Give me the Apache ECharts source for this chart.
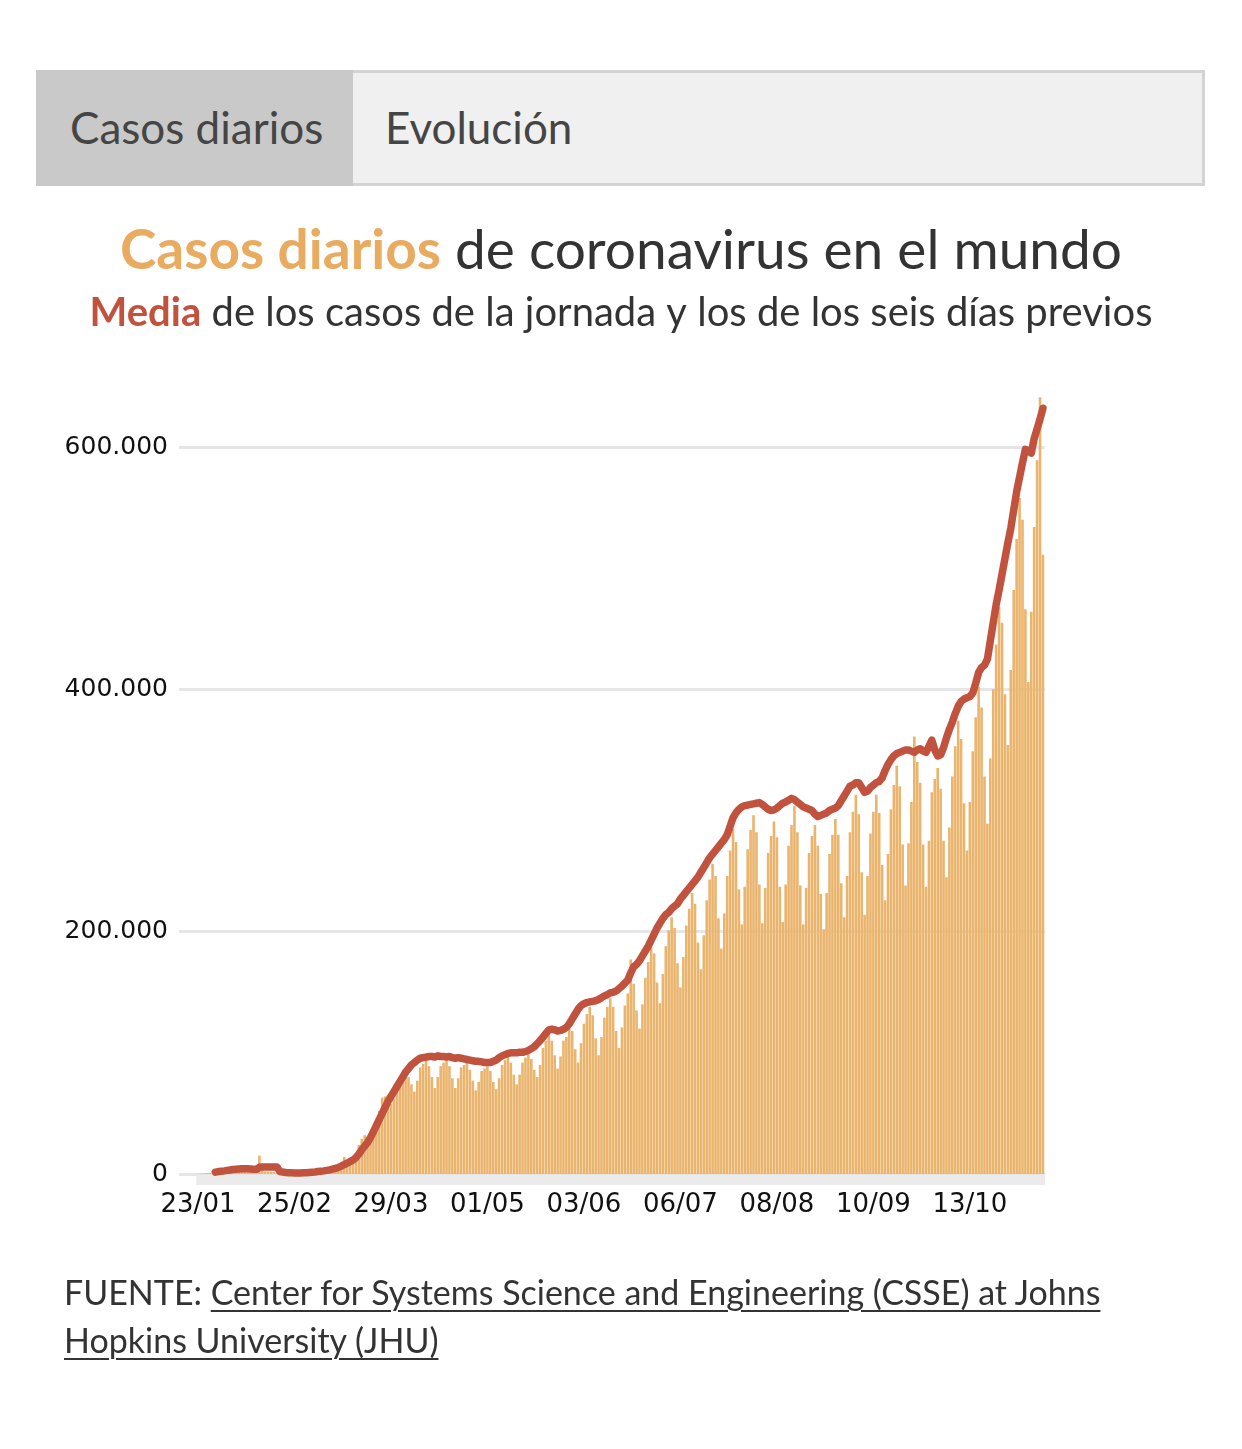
<!DOCTYPE html>
<html><head><meta charset="utf-8">
<script src="https://cdn.jsdelivr.net/npm/echarts@6/dist/echarts.min.js"></script>
<style>
html,body{margin:0;padding:0;background:#fff}
body{width:1242px;height:1449px;position:relative;overflow:hidden;font-family:Lato,"Noto Sans",sans-serif}
#chart{position:absolute;left:0;top:0;width:1242px;height:1449px}
.tabs{position:absolute;left:36px;top:70px;width:1169px;height:116px;background:#f0f0f0;border:3px solid #d3d3d3;box-sizing:border-box;z-index:2}
.tab{position:absolute;top:-3px;height:116px;line-height:114px;font-size:44px;color:#454545}
.tab.on{left:-3px;width:317px;background:#c9c9c9;padding-left:34px;box-sizing:border-box}
.tab.off{left:346px}
.fuente{position:absolute;left:64px;top:1268px;font-size:34px;line-height:48px;color:#333;z-index:2}
.fuente span{text-decoration:underline;text-underline-offset:5px;text-decoration-thickness:2px}
</style></head>
<body>
<div class="tabs"><div class="tab on">Casos diarios</div><div class="tab off">Evolución</div></div>
<div id="chart"></div>
<div class="fuente">FUENTE: <span>Center for Systems Science and Engineering (CSSE) at Johns<br>Hopkins University (JHU)</span></div>
<script>
// Daily cases (thousands), one per day starting 23/01
const casos = [
0.1,0.3,0.5,0.7,0.8,2.7,0.6,
2.1,1.7,2.1,4.7,3.1,4.0,3.7,
3.2,3.6,2.7,3.0,2.5,2.0,0.4,
15.2,6.5,2.1,2.1,1.9,1.9,0.5,
0.6,1.0,1.5,0.3,0.5,0.9,0.9,
1.1,1.4,1.8,1.7,2.0,1.9,2.3,
2.8,2.9,4.0,3.9,4.0,4.5,7.0,
7.5,14.0,11.0,11.5,14.5,16.0,24.0,
29,32,31,34,40,44,52,
63,64,65,58,62,75,78,
76,81,80,74,68,77,88,
91,94,89,80,71,80,89,
92,94,89,79,71,79,88,
90,92,86,77,69,76,85,
87,89,85,76,70,79,90,
94,97,92,82,74,82,92,
96,99,95,86,80,90,104,
110,115,110,98,87,97,110,
113,120,118,103,92,108,124,
132,138,131,112,98,113,129,
138,145,138,118,104,121,139,
149,177,157,135,120,140,162,
175,187,182,158,141,165,188,
201,212,203,174,154,179,205,
219,232,223,191,169,197,226,
243,256,246,211,186,215,246,
267,285,274,235,206,237,268,
284,296,282,239,207,236,265,
279,291,278,237,208,239,271,
288,304,282,238,206,236,265,
279,288,271,231,202,232,264,
280,293,280,240,212,246,282,
299,313,297,249,214,246,281,
299,313,298,255,226,264,301,
321,337,320,272,238,273,307,
361,340,323,272,237,275,315,
326,335,318,275,245,286,328,
353,374,359,306,267,307,349,
377,402,385,328,289,343,400,
437,468,455,396,354,416,482,
524,558,540,466,406,464,534,
589,641,511
];
// Seven-day average (thousands)
const media = [
null,null,null,null,null,null,1.5,
2.0,2.3,2.6,3.0,3.3,3.8,4.0,
4.2,4.4,4.3,4.3,4.2,4.0,3.8,
5.5,5.8,5.8,5.8,5.7,5.8,5.8,
2.0,1.6,1.3,1.1,1.0,0.9,0.8,
0.9,1.0,1.1,1.3,1.5,1.7,2.0,
2.3,2.6,3.0,3.4,4.0,4.6,5.4,
6.5,7.8,9.0,10.2,11.5,13.5,16.5,
20,23,26,30,35,40,45,
50,55,60,64,68,72,76,
80,84,87,90,92,94,95.5,
96,96.5,97,97,96.5,97.5,97,
97,96.5,97,96,95.5,96,95.5,
95,94.5,94,93.5,93,93,92.5,
92,92,92,93,94,96,97.5,
98.5,99.5,100,100,100,100.5,100.5,
101,102,103.5,105,107.5,110,113,
116,119,119.5,119,118,118.5,119.5,
121,124,128,132,136,139,140.5,
141.5,142,142.5,143,144,145.5,147,
148,149.5,150,151,153,155,157.5,
160,166,171,173,176,180,184,
188,193,198,203,207,211,214,
216,219,221,223,227,230,233,
236,239,242,245,249,253,257,
261,264,267,270,273,276,280,
287,294,298,301,303,304,304.5,
305,305.5,306,306.5,305,303,301,
300,300.5,302,304,306,307,308.5,
310,309,307,305,303,302,301,
300,297,295,296,297,298,300,
301,302,304,308,312,316,320,
321,323,323,319,315,316,319,
321,323,324,327,333,338,342,
345,347,348,349,350,350,349,
348,350,351,349,348,353,358,
350,345,346,352,360,367,373,
380,386,390,392,393,394,397,
405,414,418,420,425,440,455,
470,482,495,508,521,533,548,
563,575,587,598,597,595,607,
615,623,632
];
// x tick labels and their day positions (days after 23/01)
const etiquetasFecha = ['23/01','25/02','29/03','01/05','03/06','06/07','08/08','10/09','13/10'];
const posFecha = [0,33,66,99,132,165,198,231,264];

const barData = casos.map((v,i)=>[i,v]);
const lineData = media.map((v,i)=>[i,v]);

const chart = echarts.init(document.getElementById('chart'), null, {renderer:'canvas'});
const titleFont = 'Lato, "Noto Sans", sans-serif';
chart.setOption({
  animation:false,
  backgroundColor:'#fff',
  title:[{
    left:'center', top:219,
    text:'{a|Casos diarios} {b|de coronavirus en el mundo}',
    textStyle:{fontFamily:titleFont,fontSize:55,fontWeight:'normal',color:'#333',
      rich:{a:{fontFamily:titleFont,fontSize:55,fontWeight:'bold',color:'#e8ab60'},
            b:{fontFamily:titleFont,fontSize:55,fontWeight:'normal',color:'#333'}}}
  },{
    left:'center', top:288,
    text:'{a|Media} {b|de los casos de la jornada y los de los seis días previos}',
    textStyle:{fontFamily:titleFont,fontSize:40,fontWeight:'normal',color:'#333',
      rich:{a:{fontFamily:titleFont,fontSize:40,fontWeight:'bold',color:'#c0523e'},
            b:{fontFamily:titleFont,fontSize:40,fontWeight:'normal',color:'#333'}}}
  }],
  grid:{left:179,right:197,top:447,bottom:275,containLabel:false},
  xAxis:{type:'value',min:-6.5,max:289.7,
    axisLine:{show:false},axisTick:{show:false},splitLine:{show:false},
    axisLabel:{customValues:posFecha,fontFamily:'DejaVu Sans',fontSize:26,color:'#111',margin:18,
      formatter:v=>{const k=posFecha.indexOf(Math.round(v));return k>=0?etiquetasFecha[k]:'';}}
  },
  yAxis:{type:'value',min:0,max:600,interval:200,
    axisLine:{show:false},axisTick:{show:false},
    splitLine:{lineStyle:{color:'#e6e6e6',width:3}},
    axisLabel:{fontFamily:'DejaVu Sans',fontSize:25,color:'#111',margin:11,
      formatter:v=>v===0?'0':v+'.000'}
  },
  series:[{
    type:'bar',data:barData,barWidth:2.6,clip:false,
    itemStyle:{color:'#eab46d'},z:2
  },{
    type:'line',data:lineData,showSymbol:false,clip:false,connectNulls:false,
    lineStyle:{color:'#c0523e',width:7.5,cap:'round',join:'round'},z:3
  }]
});
// grey band under the bars, positioned from the axis scale
const x0 = chart.convertToPixel({xAxisIndex:0},-0.6);
const x1 = chart.convertToPixel({xAxisIndex:0},289.7);
const y0 = chart.convertToPixel({yAxisIndex:0},0);
chart.setOption({graphic:[{type:'rect',shape:{x:x0,y:y0+1,width:x1-x0,height:10},style:{fill:'#ebebeb'},z:1}]});
</script>
</body></html>
